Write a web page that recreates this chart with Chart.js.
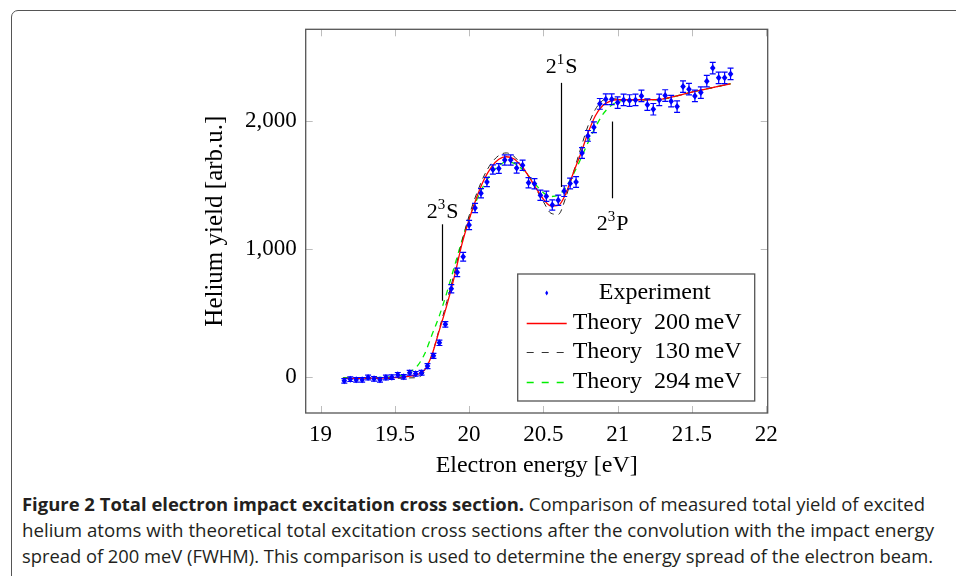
<!DOCTYPE html>
<html>
<head>
<meta charset="utf-8">
<script src="https://cdn.jsdelivr.net/npm/chart.js@4.4.0/dist/chart.umd.min.js"></script>
<style>
  html, body { margin: 0; padding: 0; background: #fff; overflow: hidden; }
  body { width: 956px; height: 576px; position: relative; }
  #frame {
    position: absolute; left: 11px; top: 10px; width: 1000px; height: 600px;
    border: 1.5px solid #555; border-radius: 7px; box-sizing: border-box;
  }
  #chart { position: absolute; left: 0; top: 0; }
  #caption {
    position: absolute; left: 22px; top: 491px;
    font-family: "Open Sans", sans-serif; font-size: 18px; line-height: 26px; color: #231f20;
  }
  .cl { white-space: nowrap; transform-origin: 0 50%; }
  .cl b { font-weight: 700; }
</style>
</head>
<body>
<div id="frame"></div>
<canvas id="chart" width="956" height="480"></canvas>
<div id="caption">
  <div class="cl" data-w="903"><b>Figure 2 Total electron impact excitation cross section.</b> Comparison of measured total yield of excited</div>
  <div class="cl" data-w="912">helium atoms with theoretical total excitation cross sections after the convolution with the impact energy</div>
  <div class="cl" data-w="911">spread of 200 meV (FWHM). This comparison is used to determine the energy spread of the electron beam.</div>
</div>
<script>
// Messwerte (Elektronenenergie in eV, Ausbeute in arb.u.)
const expEnergy = [
  19.16, 19.20, 19.24, 19.28, 19.32, 19.36, 19.40, 19.44, 19.48, 19.52, 19.56,
  19.60, 19.64, 19.68, 19.72, 19.76, 19.80, 19.84, 19.88, 19.92, 19.96,
  20.00, 20.04, 20.08, 20.12, 20.16, 20.20, 20.24, 20.28, 20.32, 20.36,
  20.40, 20.44, 20.48, 20.52, 20.56, 20.60, 20.64, 20.68, 20.72, 20.76,
  20.80, 20.84, 20.88, 20.92, 20.96,
  21.00, 21.04, 21.08, 21.12, 21.16, 21.20, 21.24, 21.28, 21.32, 21.36,
  21.40, 21.44, 21.48, 21.52, 21.56, 21.60, 21.64, 21.68, 21.72, 21.76
];
const expYield = [
  -29, -16, -21, -21, -3, -13, -21, -3, 0, 18, 2,
  34, 26, 34, 86, 166, 268, 412, 690, 818, 940,
  1188, 1320, 1435, 1523, 1620, 1628, 1695, 1695, 1633, 1654,
  1518, 1510, 1419, 1412, 1344, 1380, 1452, 1512, 1523, 1750,
  1883, 1951, 2133, 2169, 2169,
  2143, 2164, 2159, 2164, 2195, 2127, 2091, 2164, 2198, 2154,
  2112, 2268, 2248, 2195, 2221, 2310, 2412, 2336, 2336, 2367
];
const expError = [
  18, 18, 18, 18, 18, 18, 18, 18, 18, 18, 18,
  18, 18, 18, 19, 20, 21, 22, 32, 33, 34,
  36, 36, 36, 36, 36, 38, 40, 40, 40, 40,
  40, 40, 40, 40, 40, 40, 42, 42, 42, 42,
  42, 42, 42, 42, 42,
  45, 45, 45, 45, 45, 45, 45, 45, 45, 45,
  45, 45, 45, 45, 45, 45, 45, 45, 45, 45
];

// Theoriekurven
const theoryEnergy = [
  19.15, 19.30, 19.45, 19.55, 19.60, 19.65, 19.70, 19.75, 19.80, 19.85,
  19.90, 19.95, 20.00, 20.05, 20.10, 20.15, 20.20, 20.25, 20.30, 20.35,
  20.40, 20.45, 20.50, 20.55, 20.60, 20.65, 20.70, 20.75, 20.80, 20.85,
  20.90, 20.95, 21.00, 21.10, 21.20, 21.30, 21.40, 21.50, 21.60, 21.70, 21.76
];
const theory200 = [
  -10, -8, -5, 0, 8, 20, 55, 175, 367, 560,
  780, 1030, 1230, 1400, 1540, 1640, 1700, 1720, 1705, 1650,
  1570, 1475, 1390, 1336, 1340, 1430, 1590, 1740, 1905, 2040,
  2120, 2155, 2165, 2165, 2165, 2170, 2195, 2225, 2250, 2275, 2290
];
const theory130 = [
  -10, -10, -10, -8, -6, -3, 40, 175, 380, 590,
  810, 1050, 1260, 1430, 1570, 1670, 1730, 1750, 1725, 1660,
  1570, 1470, 1370, 1280, 1270, 1400, 1590, 1780, 1960, 2090,
  2160, 2175, 2170, 2165, 2165, 2170, 2195, 2225, 2250, 2275, 2290
];
const theory294 = [
  -5, -5, 0, 15, 40, 85, 180, 330, 480, 660,
  860, 1060, 1240, 1380, 1500, 1590, 1650, 1680, 1670, 1630,
  1570, 1500, 1440, 1410, 1420, 1480, 1580, 1700, 1830, 1950,
  2050, 2115, 2150, 2165, 2165, 2170, 2195, 2225, 2250, 2275, 2290
];

const xTicks = [19, 19.5, 20, 20.5, 21, 21.5, 22];
const yTicks = [0, 1000, 2000];

// Zustände: Energie, Linie von/bis, Position der Beschriftung
const levelBase = ["2", "2", "2"];
const levelSup = ["3", "1", "3"];
const levelLetter = ["S", "S", "P"];
const levelEnergy = [19.82, 20.62, 20.96];
const levelLineFrom = [596, 1484, 1396];
const levelLineTo = [1193, 2297, 1995];
const levelLabelY = [1300, 2430, 1200];

const legendLabels = ["Experiment", "Theory\u2002200\u2009meV", "Theory\u2002130\u2009meV", "Theory\u2002294\u2009meV"];

const serif = "'Liberation Serif', 'Times New Roman', serif";
Chart.defaults.font.family = serif;
Chart.defaults.color = "#000";

function pairs(xs, ys) {
  return xs.map((x, i) => ({ x: x, y: ys[i] }));
}

// Fehlerbalken und Messpunkte
const errorBars = {
  id: "errorBars",
  afterDatasetsDraw(chart) {
    const ctx = chart.ctx;
    const xs = chart.scales.x, ys = chart.scales.y;
    ctx.save();
    ctx.strokeStyle = "#0000ff";
    ctx.fillStyle = "#0000ff";
    ctx.lineWidth = 1.2;
    expEnergy.forEach((e, i) => {
      const px = xs.getPixelForValue(e);
      const py = ys.getPixelForValue(expYield[i]);
      const top = ys.getPixelForValue(expYield[i] + expError[i]);
      const bot = ys.getPixelForValue(expYield[i] - expError[i]);
      ctx.beginPath();
      ctx.moveTo(px, top); ctx.lineTo(px, bot);
      ctx.moveTo(px - 3, top); ctx.lineTo(px + 3, top);
      ctx.moveTo(px - 3, bot); ctx.lineTo(px + 3, bot);
      ctx.stroke();
      ctx.beginPath();
      ctx.moveTo(px, py - 3.5);
      ctx.lineTo(px + 2.8, py);
      ctx.lineTo(px, py + 3.5);
      ctx.lineTo(px - 2.8, py);
      ctx.closePath();
      ctx.fill();
    });
    ctx.restore();
  }
};

// Rahmen, Ticks nach innen, Zustandsmarken, Legende
const decorations = {
  id: "decorations",
  beforeDatasetsDraw(chart) {
    const ctx = chart.ctx;
    const a = chart.chartArea;
    const xs = chart.scales.x, ys = chart.scales.y;
    ctx.save();
    ctx.strokeStyle = "#bdbdbd";
    ctx.lineWidth = 1;
    xTicks.forEach((v) => {
      const px = Math.round(xs.getPixelForValue(v)) + 0.5;
      ctx.beginPath();
      ctx.moveTo(px, a.bottom); ctx.lineTo(px, a.bottom - 7);
      ctx.moveTo(px, a.top); ctx.lineTo(px, a.top + 7);
      ctx.stroke();
    });
    yTicks.forEach((v) => {
      const py = Math.round(ys.getPixelForValue(v)) + 0.5;
      ctx.beginPath();
      ctx.moveTo(a.left, py); ctx.lineTo(a.left + 7, py);
      ctx.moveTo(a.right, py); ctx.lineTo(a.right - 7, py);
      ctx.stroke();
    });
    ctx.restore();
  },
  afterDraw(chart) {
    const ctx = chart.ctx;
    const a = chart.chartArea;
    const xs = chart.scales.x, ys = chart.scales.y;
    ctx.save();
    ctx.strokeStyle = "#555";
    ctx.lineWidth = 1.3;
    ctx.strokeRect(a.left, a.top, a.right - a.left, a.bottom - a.top);

    // Zustände
    ctx.strokeStyle = "#000";
    ctx.fillStyle = "#000";
    ctx.lineWidth = 1.2;
    levelEnergy.forEach((e, i) => {
      const px = Math.round(xs.getPixelForValue(e)) + 0.5;
      ctx.beginPath();
      ctx.moveTo(px, ys.getPixelForValue(levelLineFrom[i]));
      ctx.lineTo(px, ys.getPixelForValue(levelLineTo[i]));
      ctx.stroke();
      const py = ys.getPixelForValue(levelLabelY[i]);
      ctx.font = "22px " + serif;
      const wb = ctx.measureText(levelBase[i]).width;
      const wl = ctx.measureText(levelLetter[i]).width;
      ctx.font = "15px " + serif;
      const ws = ctx.measureText(levelSup[i]).width + 1;
      const x0 = px - (wb + ws + wl) / 2;
      ctx.textBaseline = "alphabetic";
      ctx.textAlign = "left";
      ctx.font = "22px " + serif;
      ctx.fillText(levelBase[i], x0, py + 7);
      ctx.font = "15px " + serif;
      ctx.fillText(levelSup[i], x0 + wb, py - 2);
      ctx.font = "22px " + serif;
      ctx.fillText(levelLetter[i], x0 + wb + ws, py + 7);
    });

    // Legende
    const bx = a.right - 250, by = a.bottom - 139, bw = 237, bh = 127;
    ctx.fillStyle = "#fff";
    ctx.fillRect(bx, by, bw, bh);
    ctx.strokeStyle = "#555";
    ctx.lineWidth = 1.3;
    ctx.strokeRect(bx, by, bw, bh);
    const rows = [by + 19, by + 49, by + 78, by + 108];
    ctx.fillStyle = "#0000ff";
    ctx.beginPath();
    ctx.moveTo(bx + 29, rows[0] - 2.5);
    ctx.lineTo(bx + 30.5, rows[0]);
    ctx.lineTo(bx + 29, rows[0] + 2.5);
    ctx.lineTo(bx + 27.5, rows[0]);
    ctx.closePath();
    ctx.fill();
    const styles = [
      { c: "#ff0000", d: [], w: 1.3 },
      { c: "#333", d: [7, 8], w: 1 },
      { c: "#00ee00", d: [7, 8], w: 1.3 }
    ];
    styles.forEach((s, k) => {
      ctx.strokeStyle = s.c;
      ctx.setLineDash(s.d);
      ctx.lineWidth = s.w;
      ctx.beginPath();
      ctx.moveTo(bx + 9, rows[k + 1] + 0.5);
      ctx.lineTo(bx + 49, rows[k + 1] + 0.5);
      ctx.stroke();
    });
    ctx.setLineDash([]);
    ctx.fillStyle = "#000";
    ctx.font = "24px " + serif;
    ctx.textBaseline = "middle";
    ctx.textAlign = "center";
    ctx.fillText(legendLabels[0], bx + 137, rows[0]);
    ctx.textAlign = "left";
    for (let k = 1; k < 4; k++) {
      ctx.fillText(legendLabels[k], bx + 55, rows[k]);
    }
    ctx.restore();
  }
};

new Chart(document.getElementById("chart"), {
  type: "scatter",
  data: {
    datasets: [
      {
        label: "Experiment",
        data: pairs(expEnergy, expYield),
        pointRadius: 0,
        showLine: false
      },
      {
        label: "Theory 200 meV",
        data: pairs(theoryEnergy, theory200),
        showLine: true,
        borderColor: "#ff0000",
        borderWidth: 1.3,
        pointRadius: 0,
        cubicInterpolationMode: "monotone"
      },
      {
        label: "Theory 130 meV",
        data: pairs(theoryEnergy, theory130),
        showLine: true,
        borderColor: "#222",
        borderWidth: 1,
        borderDash: [6, 5],
        pointRadius: 0,
        cubicInterpolationMode: "monotone"
      },
      {
        label: "Theory 294 meV",
        data: pairs(theoryEnergy, theory294),
        showLine: true,
        borderColor: "#00ee00",
        borderWidth: 1.3,
        borderDash: [6, 5],
        pointRadius: 0,
        cubicInterpolationMode: "monotone"
      }
    ]
  },
  options: {
    responsive: false,
    animation: false,
    layout: { padding: { left: 200, right: 188.3, top: 29.3, bottom: 0 } },
    plugins: { legend: { display: false }, tooltip: { enabled: false } },
    scales: {
      x: {
        type: "linear",
        min: 18.9,
        max: 22.01,
        afterBuildTicks: (s) => { s.ticks = xTicks.map((v) => ({ value: v })); },
        afterFit: (s) => { s.height = 67; },
        grid: { display: false, drawTicks: false },
        border: { display: false },
        ticks: {
          padding: 8,
          maxRotation: 0,
          font: { size: 23 },
          color: "#000",
          callback: (v) => String(v)
        },
        title: {
          display: true,
          text: "Electron energy [eV]",
          font: { size: 24 },
          color: "#000",
          padding: { top: 0, bottom: 0 }
        }
      },
      y: {
        type: "linear",
        min: -280,
        max: 2715,
        afterBuildTicks: (s) => { s.ticks = yTicks.map((v) => ({ value: v })); },
        afterFit: (s) => { s.width = 105.7; },
        grid: { display: false, drawTicks: false },
        border: { display: false },
        ticks: {
          padding: 9,
          font: { size: 23 },
          color: "#000",
          callback: (v) => v.toLocaleString("en-US")
        },
        title: {
          display: true,
          text: "Helium yield [arb.u.]",
          font: { size: 25 },
          color: "#000",
          padding: { top: 0, bottom: 0 }
        }
      }
    }
  },
  plugins: [decorations, errorBars]
});

// Bildunterschrift auf Zeilenbreite bringen
document.querySelectorAll(".cl").forEach((el) => {
  el.style.display = "inline-block";
  const w = el.getBoundingClientRect().width;
  const target = parseFloat(el.dataset.w);
  el.style.transform = "scaleX(" + (target / w) + ")";
  el.style.display = "block";
  el.style.width = w + "px";
});
</script>
</body>
</html>
